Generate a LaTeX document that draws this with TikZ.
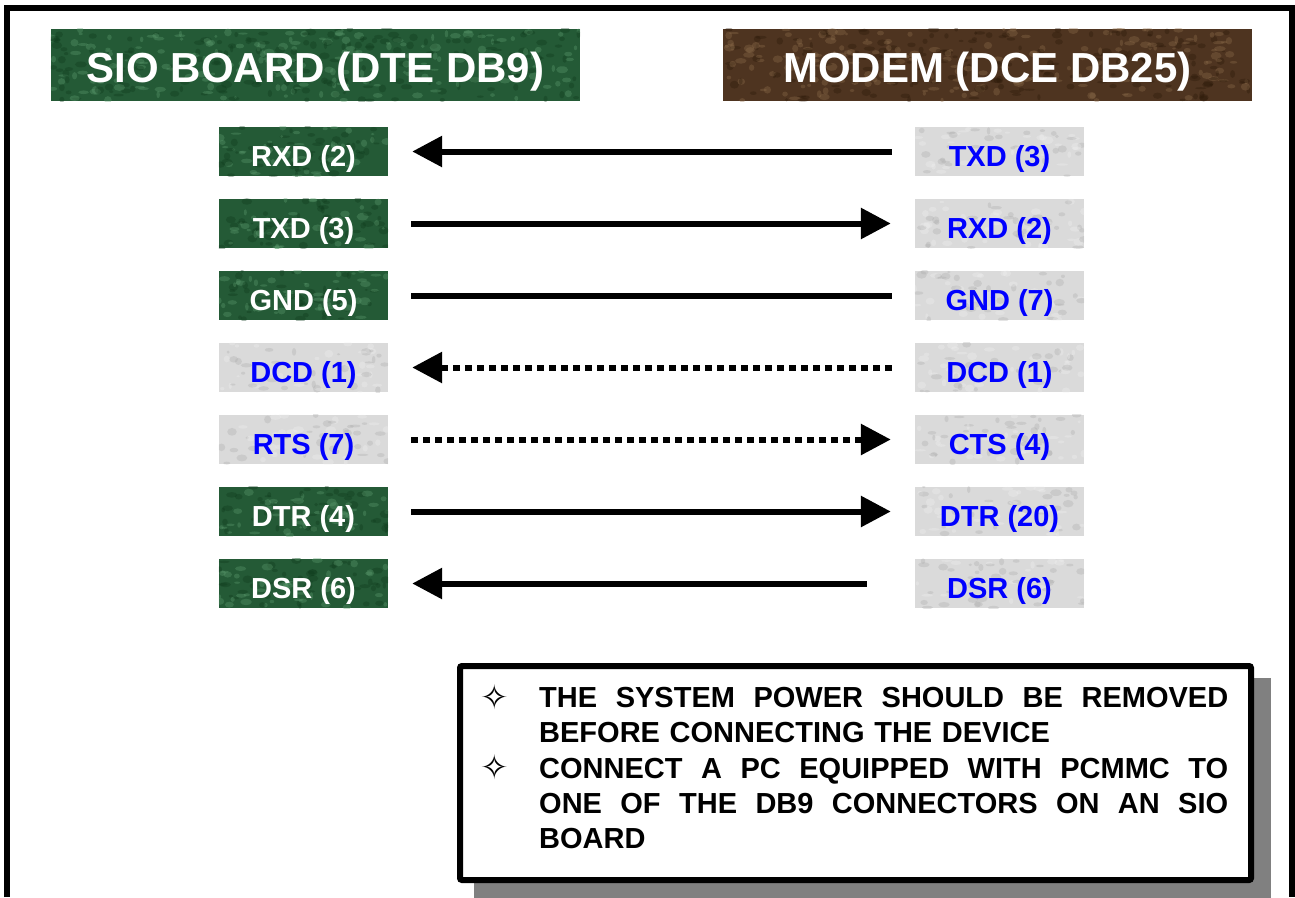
\documentclass[tikz,border=0pt]{standalone}
\usepackage{fontspec}
\setmainfont{Liberation Sans}
\newfontfamily\symfont{DejaVu Sans}
\usetikzlibrary{arrows.meta,calc}
\definecolor{pinegreen}{HTML}{245A36}
\definecolor{greenlight}{HTML}{5E9E70}
\definecolor{greendark}{HTML}{0E3A1C}
\definecolor{modembrown}{HTML}{4E3420}
\definecolor{brownlight}{HTML}{8E6E4C}
\definecolor{browndark}{HTML}{2A1808}
\definecolor{marble}{HTML}{DADADA}
\definecolor{marblelight}{HTML}{F2F2F2}
\definecolor{marbledark}{HTML}{A6A6A6}
\definecolor{pinblue}{HTML}{0000FF}
\definecolor{shadowgray}{HTML}{808080}
\pgfdeclarelayer{background}
\pgfsetlayers{background,main}
% #1 node, #2 base, #3 light blob, #4 dark blob, #5 count, #6 width, #7 height, #8 opacity
\newcommand\mottlebox[8]{%
  \begin{pgfonlayer}{background}
    \fill[#2] (#1.north west) rectangle (#1.south east);
    \begin{scope}
      \clip (#1.north west) rectangle (#1.south east);
      \foreach \k in {1,...,#5}{%
        \pgfmathsetmacro\uu{rnd}\pgfmathsetmacro\vv{rnd}%
        \pgfmathsetmacro\rr{1.5+4.5*rnd}\pgfmathsetmacro\ss{1+3*rnd}%
        \pgfmathsetmacro\cc{rnd}%
        \ifdim\cc pt<0.5pt
          \fill[#3, opacity=#8] ($(#1.north west)+(\uu*#6,\vv*#7)$) ellipse ({\rr} and {\ss});
        \else
          \fill[#4, opacity=#8] ($(#1.north west)+(\uu*#6,\vv*#7)$) ellipse ({\rr} and {\ss});
        \fi
      }
    \end{scope}
  \end{pgfonlayer}}
\newcommand\justline[1]{\leavevmode\hbox to 689pt{#1}}
\begin{document}
\begin{tikzpicture}[x=1pt,y=-1pt,
  header/.style={minimum width=529pt, minimum height=72pt, inner sep=0pt, text=white,
    font=\fontsize{42}{42}\selectfont\bfseries, text height=34pt, text depth=0pt},
  pinbox/.style={minimum width=169pt, minimum height=49pt, inner sep=0pt,
    font=\fontsize{29}{29}\selectfont\bfseries, text height=29pt, text depth=0pt},
  greenpin/.style={pinbox, text=white},
  greypin/.style={pinbox, text=pinblue},
  wire/.style={line width=6pt},
  dotwire/.style={wire, dash pattern=on 7pt off 5pt},
  headR/.style={-{Triangle[length=30pt,width=30pt]}},
  headL/.style={{Triangle[length=30pt,width=30pt]}-},
  bullet/.style={font=\symfont\fontsize{34}{34}\selectfont, inner sep=0pt}
]
\pgfmathsetseed{7}
\useasboundingbox (0,0) rectangle (1295,897);
% outer frame (open at the bottom)
\draw[line width=6pt] (7,897) -- (7,8) -- (1292,8) -- (1292,897);

% headers
\node[header] (sio) at (315.5,65) {SIO BOARD (DTE DB9)};
\node[header] (modem) at (987.5,65) {MODEM (DCE DB25)};
\mottlebox{sio}{pinegreen}{greenlight}{greendark}{380}{529}{72}{0.35}
\mottlebox{modem}{modembrown}{brownlight}{browndark}{380}{529}{72}{0.35}

% left pins
\node[greenpin] (l1) at (303.5,151.5) {RXD (2)};
\node[greenpin] (l2) at (303.5,223.5) {TXD (3)};
\node[greenpin] (l3) at (303.5,295.5) {GND (5)};
\node[greypin]  (l4) at (303.5,367.5) {DCD (1)};
\node[greypin]  (l5) at (303.5,439.5) {RTS (7)};
\node[greenpin] (l6) at (303.5,511.5) {DTR (4)};
\node[greenpin] (l7) at (303.5,583.5) {DSR (6)};

% right pins
\node[greypin] (r1) at (999.5,151.5) {TXD (3)};
\node[greypin] (r2) at (999.5,223.5) {RXD (2)};
\node[greypin] (r3) at (999.5,295.5) {GND (7)};
\node[greypin] (r4) at (999.5,367.5) {DCD (1)};
\node[greypin] (r5) at (999.5,439.5) {CTS (4)};
\node[greypin] (r6) at (999.5,511.5) {DTR (20)};
\node[greypin] (r7) at (999.5,583.5) {DSR (6)};

\foreach \n in {l1,l2,l3,l6,l7}{\mottlebox{\n}{pinegreen}{greenlight}{greendark}{90}{169}{49}{0.35}}
\foreach \n in {l4,l5,r1,r2,r3,r4,r5,r6,r7}{\mottlebox{\n}{marble}{marblelight}{marbledark}{60}{169}{49}{0.3}}

% connections
\draw[wire, headL, shorten <=24pt, shorten >=23pt] (l1.east) -- (r1.west);
\draw[wire, headR, shorten <=23pt, shorten >=24pt] (l2.east) -- (r2.west);
\draw[wire, shorten <=23pt, shorten >=23pt] (l3.east) -- (r3.west);
\draw[dotwire, headR, shorten <=23pt, shorten >=24pt] (r4.west) -- (l4.east);
\draw[dotwire, headR, shorten <=23pt, shorten >=24pt] (l5.east) -- (r5.west);
\draw[wire, headR, shorten <=23pt, shorten >=24pt] (l6.east) -- (r6.west);
\draw[wire, headL, shorten <=24pt, shorten >=48pt] (l7.east) -- (r7.west);

% note box with shadow
\node[minimum width=797pt, minimum height=220pt, inner sep=0pt, outer sep=0pt] (noteframe) at (855.5,773) {};
\fill[shadowgray] ([shift={(17,15)}]noteframe.north west) rectangle ([shift={(17,30)}]noteframe.south east);
\node[draw, line width=6pt, rounded corners=2pt, fill=white, minimum width=791pt,
      minimum height=214pt, inner sep=0pt] (note) at (noteframe.center) {};
\node[bullet] (b1) at (495,697) {✧};
\node[bullet] (b2) at (495,767) {✧};
\node[anchor=base west, inner sep=0pt, text width=689pt,
      font=\fontsize{29}{35.3}\selectfont\bfseries] (notetext) at (539,707.5)
  {\justline{THE\hfill SYSTEM\hfill POWER\hfill SHOULD\hfill BE\hfill REMOVED}\\
   BEFORE CONNECTING THE DEVICE\\
   \justline{CONNECT\hfill A\hfill PC\hfill EQUIPPED\hfill WITH\hfill PCMMC\hfill TO}\\
   \justline{ONE\hfill OF\hfill THE\hfill DB9\hfill CONNECTORS\hfill ON\hfill AN\hfill SIO}\\
   BOARD};
\end{tikzpicture}
\end{document}
